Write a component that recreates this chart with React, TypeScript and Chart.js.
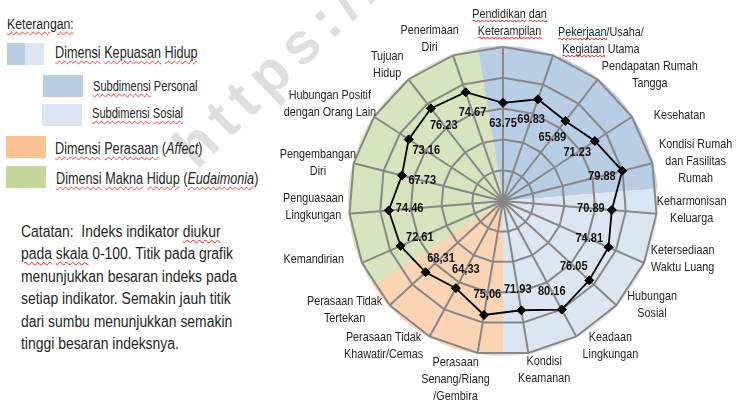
import React, { useEffect, useRef } from 'react';
import { Chart, registerables } from 'chart.js';

Chart.register(...registerables);

// ---------------- data ----------------
const INDICATORS: string[][] = [
  ['Pendidikan dan', 'Keterampilan'],
  ['Pekerjaan/Usaha/', 'Kegiatan Utama'],
  ['Pendapatan Rumah', 'Tangga'],
  ['Kesehatan'],
  ['Kondisi Rumah', 'dan Fasilitas', 'Rumah'],
  ['Keharmonisan', 'Keluarga'],
  ['Ketersediaan', 'Waktu Luang'],
  ['Hubungan', 'Sosial'],
  ['Keadaan', 'Lingkungan'],
  ['Kondisi', 'Keamanan'],
  ['Perasaan', 'Senang/Riang', '/Gembira'],
  ['Perasaan Tidak', 'Khawatir/Cemas'],
  ['Perasaan Tidak', 'Tertekan'],
  ['Kemandirian'],
  ['Penguasaan', 'Lingkungan'],
  ['Pengembangan', 'Diri'],
  ['Hubungan Positif', 'dengan Orang Lain'],
  ['Tujuan', 'Hidup'],
  ['Penerimaan', 'Diri'],
];

const INDEX_VALUES = [
  63.75, 69.83, 65.89, 71.23, 79.88, 70.89, 74.81, 76.05, 80.16, 71.93,
  75.06, 64.33, 68.31, 72.61, 74.46, 67.73, 73.16, 76.23, 74.67,
];

// labels printed with a decimal comma in the source
const COMMA_DECIMAL = [
  false, false, false, false, false, false, false, false, false, false,
  true, true, true, false, false, false, false, false, false,
];

const SUBDIMENSION = [
  'personal', 'personal', 'personal', 'personal', 'personal',
  'sosial', 'sosial', 'sosial', 'sosial', 'sosial',
  'perasaan', 'perasaan', 'perasaan',
  'makna', 'makna', 'makna', 'makna', 'makna', 'makna',
];

const SCALE_MIN = 0;
const SCALE_MAX = 100;
const SCALE_STEP = 20;

const NOTE_LINES = [
  'Catatan:  Indeks indikator diukur',
  'pada skala 0-100. Titik pada grafik',
  'menunjukkan besaran indeks pada',
  'setiap indikator. Semakin jauh titik',
  'dari sumbu menunjukkan semakin',
  'tinggi besaran indeksnya.',
];

// ---------------- styles ----------------
const FONT = "'Liberation Sans', Arial, sans-serif";
const SX = 0.83; // horizontal squeeze of the source's narrow text
const LEGEND_SX = 0.79;
const SECTOR_COLORS: Record<string, string> = {
  personal: '#B9CDE5',
  sosial: '#DCE6F2',
  perasaan: '#FBD4B3',
  makna: '#D8E4BE',
};
const LEGEND_COLORS: Record<string, string> = {
  personal: '#B9CDE5',
  sosial: '#DCE6F2',
  perasaan: '#FAC193',
  makna: '#C4D79C',
};
const GRID_COLOR = '#888888';
const TEXT_COLOR = '#262626';
const LABEL_PAD = 6;
const LABEL_LINE_H = 17;
const LABEL_NUDGE: [number, number][] = [
  [6.5, -1.5], [32, 7], [19, 13.5], [21, 6.5], [2, 6], [-5.5, -5.5], [4, -13],
  [13, -16], [18, -11], [10.5, -6], [-15.5, -5], [-24.5, -11], [-13, -11],
  [-15, -9], [0, -8.5], [7, 5], [-0.5, -0.5], [-7.5, 4], [-12, 5],
];
const SQUIGGLE_WORDS: Record<number, string[]> = {
  0: ['Pendidikan', 'dan', 'Keterampilan'],
  1: ['Pekerjaan', 'Kegiatan'],
};
const DATA_LABEL_INSET = 21;

function squiggle(ctx: CanvasRenderingContext2D, x1: number, x2: number, y: number) {
  ctx.save();
  ctx.strokeStyle = '#ff2020';
  ctx.lineWidth = 1;
  ctx.beginPath();
  ctx.moveTo(x1, y);
  let up = true;
  for (let x = x1; x < x2; x += 2) {
    ctx.lineTo(Math.min(x + 2, x2), y + (up ? -1 : 1));
    up = !up;
  }
  ctx.stroke();
  ctx.restore();
}

function squeezedText(ctx: CanvasRenderingContext2D, t: string, x: number, y: number, sx: number) {
  ctx.save();
  ctx.translate(x, y);
  ctx.scale(sx, 1);
  ctx.fillText(t, 0, 0);
  ctx.restore();
}

const sectorPlugin = {
  id: 'sectors',
  beforeDraw(chart: any) {
    const s = chart.scales.r;
    const ctx = chart.ctx as CanvasRenderingContext2D;
    const n = INDEX_VALUES.length;
    const step = (2 * Math.PI) / n;
    let start = 0;
    ctx.save();
    for (let i = 1; i <= n; i++) {
      if (i === n || SUBDIMENSION[i] !== SUBDIMENSION[start]) {
        const a0 = s.getIndexAngle(start) - Math.PI / 2 - step / 2;
        let a1 = s.getIndexAngle(i - 1) - Math.PI / 2 + step / 2;
        if (a1 < a0) a1 += 2 * Math.PI;
        ctx.beginPath();
        ctx.moveTo(s.xCenter, s.yCenter);
        ctx.arc(s.xCenter, s.yCenter, s.drawingArea + 1, a0, a1 + 0.004);
        ctx.closePath();
        ctx.fillStyle = SECTOR_COLORS[SUBDIMENSION[start]];
        ctx.fill();
        start = i;
      }
    }
    ctx.restore();
  },
};

const labelPlugin = {
  id: 'labels',
  afterDatasetsDraw(chart: any) {
    const s = chart.scales.r;
    const ctx = chart.ctx as CanvasRenderingContext2D;
    const meta = chart.getDatasetMeta(0);
    ctx.save();
    // data value labels
    ctx.font = `bold 13px ${FONT}`;
    ctx.fillStyle = '#111111';
    ctx.textAlign = 'center';
    ctx.textBaseline = 'middle';
    meta.data.forEach((pt: any, i: number) => {
      const dx = pt.x - s.xCenter;
      const dy = pt.y - s.yCenter;
      const d = Math.sqrt(dx * dx + dy * dy) || 1;
      const x = pt.x - (dx / d) * DATA_LABEL_INSET;
      const y = pt.y - (dy / d) * DATA_LABEL_INSET;
      let txt = INDEX_VALUES[i].toFixed(2);
      if (COMMA_DECIMAL[i]) txt = txt.replace('.', ',');
      squeezedText(ctx, txt, x, y, 0.85);
    });
    // indicator (point) labels
    ctx.font = `13px ${FONT}`;
    ctx.fillStyle = TEXT_COLOR;
    INDICATORS.forEach((lines, i) => {
      const w = Math.max(...lines.map((l) => ctx.measureText(l).width)) * SX;
      const h = lines.length * LABEL_LINE_H;
      const ang = s.getIndexAngle(i);
      const p = s.getPointPosition(i, s.drawingArea + LABEL_PAD);
      const cx = p.x + (w / 2) * Math.sin(ang) + LABEL_NUDGE[i][0];
      const cy = p.y - (h / 2) * Math.cos(ang) + LABEL_NUDGE[i][1];
      lines.forEach((line, li) => {
        const ly = cy - h / 2 + LABEL_LINE_H * (li + 0.5);
        squeezedText(ctx, line, cx, ly, SX);
        const words = SQUIGGLE_WORDS[i];
        if (words) {
          const lw = ctx.measureText(line).width * SX;
          const left = cx - lw / 2;
          words.forEach((word) => {
            const k = line.indexOf(word);
            if (k >= 0) {
              const x1 = left + ctx.measureText(line.slice(0, k)).width * SX;
              const x2 = x1 + ctx.measureText(word).width * SX;
              squiggle(ctx, x1, x2, ly + 7);
            }
          });
        }
      });
    });
    ctx.restore();
  },
};

function Wavy({ children }: { children: React.ReactNode }) {
  return (
    <span style={{ textDecoration: 'underline wavy #ff2020', textDecorationThickness: 1, textUnderlineOffset: 2 }}>
      {children}
    </span>
  );
}

export default function App() {
  const ref = useRef<HTMLCanvasElement>(null);
  useEffect(() => {
    const chart = new Chart(ref.current as HTMLCanvasElement, {
      type: 'radar',
      data: {
        labels: INDICATORS.map((l) => l.join(' ')),
        datasets: [
          {
            data: INDEX_VALUES,
            borderColor: '#000000',
            borderWidth: 1.8,
            backgroundColor: 'transparent',
            fill: false,
            pointStyle: 'rectRot',
            pointRadius: 4.5,
            pointBackgroundColor: '#000000',
            pointBorderColor: '#000000',
            pointBorderWidth: 1,
          },
        ],
      },
      options: {
        animation: false,
        responsive: false,
        maintainAspectRatio: false,
        devicePixelRatio: 1,
        layout: { padding: { left: 349, right: 80, top: 47, bottom: 48 } },
        plugins: { legend: { display: false }, tooltip: { enabled: false } },
        scales: {
          r: {
            min: SCALE_MIN,
            max: SCALE_MAX,
            ticks: { display: false, stepSize: SCALE_STEP },
            grid: { color: GRID_COLOR, lineWidth: 2 },
            angleLines: { color: GRID_COLOR, lineWidth: 2 },
            pointLabels: { display: false },
          },
        },
      },
      plugins: [sectorPlugin, labelPlugin],
    } as any);
    return () => chart.destroy();
  }, []);

  const sw = (left: number, top: number, color: string, w = 40) => (
    <div style={{ position: 'absolute', left, top, width: w, height: 22, background: color }} />
  );
  const txt = (left: number, top: number, size: number, content: React.ReactNode) => (
    <div
      style={{
        position: 'absolute', left, top, fontSize: size, lineHeight: '18px', whiteSpace: 'pre', color: TEXT_COLOR,
        transform: `scaleX(${LEGEND_SX})`, transformOrigin: '0 0',
      }}
    >
      {content}
    </div>
  );

  return (
    <div
      style={{
        position: 'fixed', left: 0, top: 0, width: 737, height: 403, background: '#ffffff',
        overflow: 'hidden', fontFamily: FONT,
      }}
    >
      <div
        style={{
          position: 'absolute', left: 203, top: 119, fontFamily: FONT,
          fontWeight: 'bold', fontSize: 58, lineHeight: '58px', letterSpacing: 9, color: '#dedede', whiteSpace: 'pre',
          transform: 'rotate(-44deg)', transformOrigin: '0% 100%',
        }}
      >
        https://
      </div>
      {txt(7, 15, 15.5, <Wavy>Keterangan:</Wavy>)}
      {sw(7, 43, LEGEND_COLORS.personal, 18)}
      {sw(25, 43, LEGEND_COLORS.sosial, 19)}
      {txt(55, 44, 16, <><Wavy>Dimensi</Wavy> <Wavy>Kepuasan</Wavy> <Wavy>Hidup</Wavy></>)}
      {sw(43, 75, LEGEND_COLORS.personal)}
      {txt(93, 77, 14, <><Wavy>Subdimensi</Wavy> Personal</>)}
      {sw(42, 104, LEGEND_COLORS.sosial)}
      {txt(92, 103.5, 14, <><Wavy>Subdimensi</Wavy> <Wavy>Sosial</Wavy></>)}
      {sw(6, 136, LEGEND_COLORS.perasaan)}
      {txt(55, 139.5, 16, <><Wavy>Dimensi</Wavy> <Wavy>Perasaan</Wavy> (<i>Affect</i>)</>)}
      {sw(6, 166, LEGEND_COLORS.makna)}
      {txt(56, 169.5, 16, <><Wavy>Dimensi</Wavy> <Wavy>Makna</Wavy> <Wavy>Hidup</Wavy> (<Wavy><i>Eudaimonia</i></Wavy>)</>)}
      <div
        style={{
          position: 'absolute', left: 21, top: 221, fontSize: 16, lineHeight: '22.4px', color: TEXT_COLOR,
          whiteSpace: 'pre', transform: 'scaleX(0.87)', transformOrigin: '0 0',
        }}
      >
        <div>Catatan:  Indeks indikator <Wavy>diukur</Wavy></div>
        <div><Wavy>pada</Wavy> <Wavy>skala</Wavy> 0-100. Titik pada grafik</div>
        {NOTE_LINES.slice(2).map((l, i) => (
          <div key={i}>{l}</div>
        ))}
      </div>
      <canvas
        ref={ref}
        width={737}
        height={403}
        style={{ position: 'absolute', left: 0, top: 0, width: 737, height: 403 }}
      />
    </div>
  );
}
